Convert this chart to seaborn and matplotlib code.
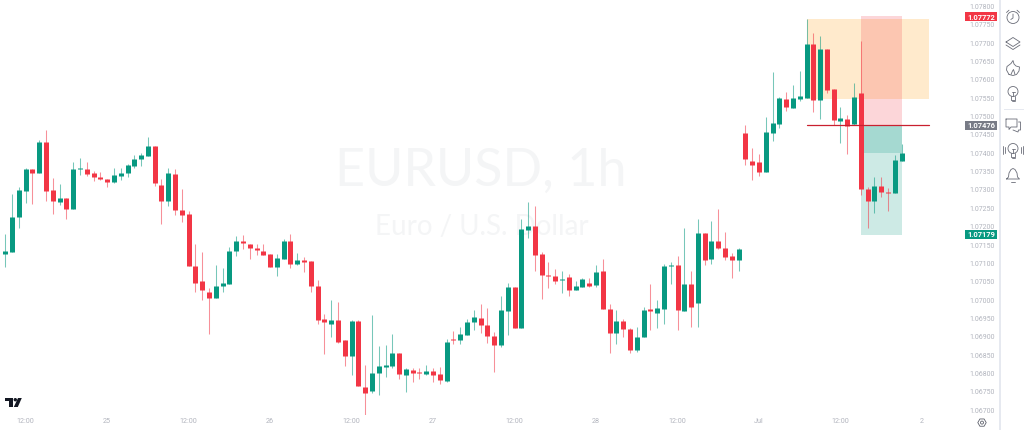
import numpy as np
import pandas as pd
import seaborn as sns
import matplotlib
matplotlib.use("Agg")
import matplotlib.pyplot as plt
from matplotlib.patches import Rectangle, Circle, Polygon
from matplotlib.transforms import blended_transform_factory

# EURUSD hourly candles, in points of 0.00001
opens_pts = [107033,107126,107132,107225,107298,107357,107345,107430,107299,107267,107278,107249,107356,107357,107345,107335,107330,107321,107339,107345,107366,107384,107393,107419,107313,107269,107343,107245,107235,107092,107052,107021,107007,107038,107045,107133,107161,107154,107142,
 107133,107125,107090,107112,107161,107098,107109,107106,107037,106948,106935,106947,106891,106848,106942,106764,106751,106800,106818,106820,106856,106797,106809,106804,106798,106807,106798,106780,106894,106891,106906,106940,106952,106931,106902,106877,106971,107036,106924,107192,107203,107126,107069,107066,107055,107062,107028,107036,107046,107040,107078,106977,106910,106942,106922,106865,106900,106976,106964,106977,107093,107095,106971,107045,106991,107182,107111,107161,107142,107119,107110,
 107456,107380,107375,107349,107456,107480,107548,107524,107548,107551,107698,107545,107684,107574,107489,107494,107481,107565,107302,107269,107312,107295,107292,107380]
highs_pts = [107127,107179,107289,107307,107359,107357,107436,107463,107332,107315,107278,107377,107386,107376,107351,107348,107330,107359,107361,107370,107395,107401,107443,107419,107331,107359,107356,107302,107244,107152,107131,107032,107095,107088,107145,107175,107177,107154,107154,
 107153,107125,107126,107166,107180,107127,107116,107106,107056,106961,107000,106996,106891,106947,106945,106823,106958,106875,106877,106907,106856,106814,106814,106816,106822,106816,106818,106895,106916,106926,106948,106973,106989,106979,106913,107012,107046,107036,107221,107267,107256,107130,107104,107086,107079,107072,107052,107059,107059,107096,107112,106988,106972,106948,106924,106926,106982,107044,107000,107098,107104,107121,107195,107079,107221,107182,107215,107248,107186,107127,107142,
 107476,107414,107398,107500,107620,107552,107566,107587,107624,107767,107728,107720,107684,107574,107526,107505,107592,107706,107307,107335,107336,107305,107396,107425]
lows_pts = [107033,107089,107132,107197,107265,107262,107345,107271,107235,107259,107221,107247,107341,107338,107324,107327,107308,107320,107326,107336,107359,107365,107392,107311,107208,107257,107232,107212,107092,107021,107000,106907,107007,107021,107044,107121,107139,107112,107124,
 107123,107090,107065,107111,107087,107096,107076,107022,106936,106854,106900,106882,106821,106796,106767,106688,106748,106742,106791,106814,106784,106750,106777,106785,106795,106777,106771,106777,106880,106880,106905,106918,106909,106884,106805,106871,106904,106924,106924,107170,107078,107003,107034,107045,107020,107011,107027,107036,107035,107036,106976,106856,106880,106900,106857,106859,106899,106918,106924,106934,107045,106918,106971,106927,106927,107095,107097,107139,107109,107060,107079,
 107368,107327,107339,107349,107432,107469,107514,107523,107541,107551,107513,107494,107564,107476,107427,107398,107478,107286,107196,107238,107281,107242,107291,107380]
closes_pts = [107127,107133,107227,107301,107357,107345,107430,107297,107271,107278,107249,107357,107360,107343,107334,107329,107321,107341,107346,107368,107385,107394,107419,107318,107270,107345,107245,107233,107092,107047,107027,107007,107038,107046,107135,107161,107155,107142,107136,
 107123,107090,107114,107161,107099,107109,107104,107037,106947,106941,106947,106887,106848,106942,106767,106748,106802,106820,106822,106856,106798,106812,106802,106801,106806,106797,106781,106886,106892,106908,106941,106955,106933,106902,106877,106972,107036,106924,107194,107203,107124,107067,107065,107053,107057,107027,107037,107057,107039,107076,106976,106910,106942,106921,106864,106900,106972,106971,106979,107092,107096,106972,107045,106982,107182,107109,107161,107141,107117,107110,107139,
 107385,107369,107348,107458,107482,107550,107525,107550,107556,107698,107546,107684,107571,107490,107495,107475,107554,107302,107269,107312,107294,107293,107381,107402]

# time axis: trading-hour index of each labelled tick
tick_hours = [4, 16, 28, 40, 52, 64, 76, 88, 100, 112, 124, 136]
tick_labels = ["12:00", "25", "12:00", "26", "12:00", "27", "12:00", "28", "12:00", "Jul", "12:00", "2"]
price_ticks = [1.067 + 0.0005 * k for k in range(23)]

# position drawing
pos_start, pos_end = 119, 137      # price-line / reward box span, hours
sl_start, sl_end = 127, 133        # stop / target boxes span, hours
entry_price = 1.07476
orange_top, orange_bottom = 1.07767, 1.07548
pink_top = 1.07774
green_bottom = 1.07177
dark_green_bottom = 1.07401

# price-scale tags
tag_prices = [1.07772, 1.07476, 1.07179]
tag_colors = ["#f23645", "#787b86", "#089981"]

GREEN, RED = "#089981", "#f23645"
W, H = 1024, 430

sns.set_theme(style="white")
plt.rcParams["font.family"] = ["Roboto", "DejaVu Sans"]

o, h, l, c = (np.array(a) / 1e5 for a in (opens_pts, highs_pts, lows_pts, closes_pts))
hours = np.arange(len(o))
direction = np.where(c >= o, "up", "down")

wicks = pd.DataFrame({
    "hour": np.repeat(hours, 2), "price": np.column_stack([l, h]).ravel(),
    "candle": np.repeat(hours, 2), "direction": np.repeat(direction, 2)})
bodies = pd.DataFrame({
    "hour": np.repeat(hours, 2), "price": np.column_stack([o, c]).ravel(),
    "candle": np.repeat(hours, 2), "direction": np.repeat(direction, 2)})

fig = plt.figure(figsize=(W / 100, H / 100), dpi=100, facecolor="white")
ax = fig.add_axes([0, 1 - 415 / H, 961 / W, 415 / H])
ax.set_facecolor("white")

# watermark
ax.text(481 / 961, 1 - 171 / 415, "EURUSD, 1h", transform=ax.transAxes, ha="center", va="center",
        fontsize=37.5, color="#f4f5f6", family="Lato", zorder=0)
ax.text(482 / 961, 1 - 227 / 415, "Euro / U.S. Dollar", transform=ax.transAxes, ha="center", va="center",
        fontsize=20, color="#f4f5f6", family="Lato", zorder=0)

# position boxes
ax.add_patch(Rectangle((pos_start, orange_bottom), pos_end - pos_start, orange_top - orange_bottom,
                       fc="#ff9800", alpha=0.2, lw=0, zorder=1))
ax.add_patch(Rectangle((sl_start, entry_price), sl_end - sl_start, pink_top - entry_price,
                       fc=RED, alpha=0.2, lw=0, zorder=1))
ax.add_patch(Rectangle((sl_start, green_bottom), sl_end - sl_start, entry_price - green_bottom,
                       fc=GREEN, alpha=0.2, lw=0, zorder=1))
ax.add_patch(Rectangle((sl_start, dark_green_bottom), sl_end - sl_start, entry_price - dark_green_bottom,
                       fc=GREEN, alpha=0.2, lw=0, zorder=1))

palette = {"up": GREEN, "down": RED}
sns.lineplot(data=wicks, x="hour", y="price", hue="direction", units="candle", estimator=None,
             palette=palette, legend=False, sort=False, lw=0.75, alpha=0.55,
             solid_capstyle="butt", ax=ax, zorder=2)
sns.lineplot(data=bodies, x="hour", y="price", hue="direction", units="candle", estimator=None,
             palette=palette, legend=False, sort=False, lw=3.6, alpha=1,
             solid_capstyle="butt", ax=ax, zorder=3)

ax.plot([pos_start, pos_end], [entry_price, entry_price], color="#c9202f", lw=0.9, zorder=4)

ax.set_xlim(1.5 / 6.79, 962.5 / 6.79)
ax.set_ylim(1.078 - 408.5 / 36700, 1.078 + 6.4 / 36700)
ax.set_xlabel("")
ax.set_ylabel("")
for s in ax.spines.values():
    s.set_visible(False)
ax.grid(False)
ax.set_xticks(tick_hours, tick_labels)
ax.set_yticks(price_ticks, [f"{p:.5f}" for p in price_ticks])
ax.yaxis.tick_right()
ax.tick_params(axis="y", length=0, pad=6.4, labelsize=5.0, labelcolor="#b2b5be")
ax.tick_params(axis="x", length=0, pad=2.4, labelsize=5.2, labelcolor="#b2b5be")

# price tags
tf = blended_transform_factory(ax.transAxes, ax.transData)
for p, col in zip(tag_prices, tag_colors):
    ax.add_patch(Rectangle((965 / 961, p - 4.4 / 36700), 32 / 961, 8.8 / 36700, transform=tf, fc=col, lw=0,
                           clip_on=False, zorder=6))
    ax.text(981 / 961, p, f"{p:.5f}", transform=tf, ha="center", va="center_baseline", color="white",
            fontsize=5.4, fontweight="bold", clip_on=False, zorder=7)

# chrome layer in pixel space: divider, toolbar icons, logo
ov = fig.add_axes([0, 0, 1, 1], facecolor="none")
ov.set_xlim(0, W)
ov.set_ylim(H, 0)
ov.axis("off")
ICON = "#6a6d78"
LW = 0.6

def pl(xs, ys, lw=LW, col=ICON):
    ov.plot(xs, ys, color=col, lw=lw, solid_capstyle="round", solid_joinstyle="round")

ov.add_patch(Rectangle((999, 0), 2.2, H, fc="#e6e9f0", lw=0))
ov.add_patch(Rectangle((1004, 108.6), 20, 0.9, fc="#e6e9f0", lw=0))

# clock
ov.add_patch(Circle((1013, 17.5), 6, fc="none", ec=ICON, lw=LW))
pl([1013, 1013, 1010.8], [14, 18, 19.5])
pl([1006.5, 1009], [12.5, 10.2]); pl([1017, 1019.5], [10.2, 12.5])
# layers
pl([1006, 1013, 1020, 1013, 1006], [42, 37.5, 42, 46.5, 42])
pl([1006, 1013, 1020], [45, 49.5, 45])
# flame
fx = [1009, 1006.5, 1007, 1011, 1013, 1014, 1016, 1019.5, 1019, 1016.5, 1013, 1009]
fy = [74.5, 70, 66.5, 63.5, 60.5, 64, 66, 67, 71, 74.5, 75.5, 74.5]
pl(fx, fy)
pl([1011, 1012.5, 1013.5, 1015], [74.5, 71, 69.5, 74.5])

def bulb(cx, cy):
    ov.add_patch(Circle((cx, cy - 1.5), 5, fc="none", ec=ICON, lw=LW))
    pl([cx - 2, cx - 2, cx + 2, cx + 2], [cy + 3, cy + 6.5, cy + 6.5, cy + 3])
    pl([cx - 1.5, cx + 1.5], [cy + 8, cy + 8])
    pl([cx, cx], [cy - 1, cy + 3])
    pl([cx - 1.5, cx + 1.5], [cy - 1.5, cy - 1.5])

bulb(1013, 93)
bulb(1013, 150)
for d, span in ((8, 3), (10, 4)):
    pl([1013 - d, 1013 - d], [150 - span, 150 + span])
    pl([1013 + d, 1013 + d], [150 - span, 150 + span])
# chat
ov.plot([1006, 1017, 1017, 1011, 1009, 1009, 1006, 1006], [119, 119, 127, 127, 129.5, 127, 127, 119], color=ICON, lw=LW)
pl([1018.5, 1020.5, 1020.5, 1018.5, 1018, 1013], [122, 122, 130, 130, 132, 130])
# bell
pl([1006.5, 1008.5, 1009, 1011, 1013, 1015, 1017, 1017.5, 1019.5, 1006.5],
   [179, 177, 173, 169.5, 168.5, 169.5, 173, 177, 179, 179])
pl([1011, 1015], [181.5, 181.5])
# gear
ang = np.deg2rad(np.arange(0, 360, 60))
ov.add_patch(Polygon(np.column_stack([982 + 4.2 * np.cos(ang), 422.6 + 4.2 * np.sin(ang)]), closed=True, fc="none", ec="#5d606b", lw=0.6))
ov.add_patch(Circle((982, 422.6), 1.5, fc="none", ec="#5d606b", lw=0.6))
# logo
LOGO = "#131722"
ov.add_patch(Polygon([(5, 398), (13, 398), (13, 407), (9.3, 407), (9.3, 401), (5, 401)], closed=True, fc=LOGO, lw=0))
ov.add_patch(Circle((15.3, 399.7), 1.7, fc=LOGO, lw=0))
ov.add_patch(Polygon([(18, 398), (21.8, 398), (17.8, 407), (13.8, 407)], closed=True, fc=LOGO, lw=0))

fig.savefig("out.png", dpi=100, facecolor="white")
